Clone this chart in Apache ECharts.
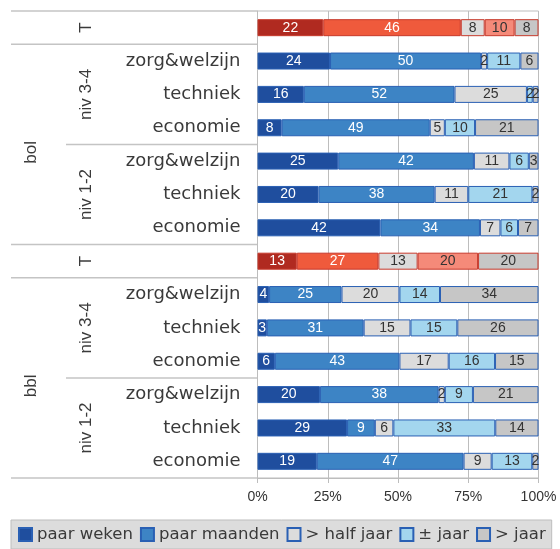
<!DOCTYPE html>
<html><head><meta charset="utf-8">
<script src="https://cdn.jsdelivr.net/npm/echarts@6/dist/echarts.min.js"></script>
<style>html,body{margin:0;padding:0;background:#fff}#c{width:560px;height:549px}</style>
</head><body><div id="c"></div>
<script>
// ---- data ----
const seriesNames = ['paar weken', 'paar maanden', '> half jaar', '± jaar', '> jaar'];
const rowLabels = ['', 'zorg&welzijn', 'techniek', 'economie', 'zorg&welzijn', 'techniek', 'economie',
                   '', 'zorg&welzijn', 'techniek', 'economie', 'zorg&welzijn', 'techniek', 'economie'];
const totalRows = [0, 7];
const midGroups = [
  { label: 'T', from: 0, to: 0 }, { label: 'niv 3-4', from: 1, to: 3 }, { label: 'niv 1-2', from: 4, to: 6 },
  { label: 'T', from: 7, to: 7 }, { label: 'niv 3-4', from: 8, to: 10 }, { label: 'niv 1-2', from: 11, to: 13 }
];
const outerGroups = [{ label: 'bol', from: 1, to: 6 }, { label: 'bbl', from: 8, to: 13 }];
const fullSeparators = [0, 1, 7, 8, 14];   // boundaries before these rows (14 = bottom)
const innerSeparators = [4, 11];

const paarWeken    = [22, 24, 16, 8, 25, 20, 42, 13, 4, 3, 6, 20, 29, 19];
const paarMaanden  = [46, 50, 52, 49, 42, 38, 34, 27, 25, 31, 43, 38, 9, 47];
const halfJaar     = [8, 2, 25, 5, 11, 11, 7, 13, 20, 15, 17, 2, 6, 9];
const ongeveerJaar = [10, 11, 2, 10, 6, 21, 6, 20, 14, 15, 16, 9, 33, 13];
const meerJaar     = [8, 6, 2, 21, 3, 2, 7, 20, 34, 26, 15, 21, 14, 2];

// ---- build ----
const raw = [paarWeken, paarMaanden, halfJaar, ongeveerJaar, meerJaar];
const rows = rowLabels.map((_, i) => 'r' + i);
const totals = rows.map((_, i) => raw.reduce((s, a) => s + a[i], 0));
const blueFill = ['#1F4E9E', '#3D84C5', '#DCDCDC', '#A3D6EE', '#C6C6C6'];
const redFill = ['#B02A20', '#EF5A3C', '#DCDCDC', '#F58A79', '#C6C6C6'];
const blueBorder = '#2A60B4';
const redBorder = '#C7392B';
const labelColors = ['#ffffff', '#ffffff', '#333333', '#333333', '#333333'];
const FONT = 'Liberation Sans, Arial, sans-serif';
const WIDE = 'DejaVu Sans, sans-serif';

const series = raw.map((arr, s) => ({
  name: seriesNames[s],
  type: 'bar',
  stack: 'all',
  barWidth: 17,
  itemStyle: { color: blueFill[s], borderColor: blueBorder, borderWidth: 1 },
  label: {
    show: true, position: 'inside', color: labelColors[s], fontSize: 14, fontFamily: FONT,
    formatter: p => String(raw[p.seriesIndex][p.dataIndex])
  },
  labelLayout: { hideOverlap: false },
  emphasis: { disabled: true },
  data: arr.map((v, i) => {
    const item = { value: v / totals[i] * 100 };
    if (totalRows.includes(i)) item.itemStyle = { color: redFill[s], borderColor: redBorder, borderWidth: 1 };
    return item;
  })
}));

const chart = echarts.init(document.getElementById('c'));
const GRID_LEFT = 257.5;
chart.setOption({
  animation: false,
  textStyle: { fontFamily: FONT },
  grid: { left: GRID_LEFT, right: 21.5, top: 11, bottom: 71, show: true, borderColor: '#BDBDBD', borderWidth: 1 },
  xAxis: {
    type: 'value', min: 0, max: 100, interval: 25,
    axisLine: { show: true, lineStyle: { color: '#BDBDBD' } },
    axisTick: { show: true, length: 5, lineStyle: { color: '#BDBDBD' } },
    splitLine: { show: true, lineStyle: { color: '#BDBDBD' } },
    axisLabel: { formatter: '{value}%', fontSize: 14, color: '#333', margin: 12, fontFamily: FONT }
  },
  yAxis: {
    type: 'category', data: rows, inverse: true,
    axisLine: { show: true, lineStyle: { color: '#BDBDBD' } },
    axisTick: { show: false },
    axisLabel: { formatter: (v, i) => rowLabels[i], fontSize: 18, color: '#3a3a3a', margin: 17, fontFamily: WIDE }
  },
  legend: {
    left: 11, top: 520, width: 620, orient: 'horizontal',
    backgroundColor: '#DCDCDC', borderColor: '#BDBDBD', borderWidth: 1,
    padding: [6, 6, 6, 7], itemWidth: 13, itemHeight: 13, itemGap: 7,
    icon: 'rect',
    textStyle: { fontSize: 16.5, color: '#3a3a3a', fontFamily: WIDE },
    data: seriesNames
  },
  series
});

// ---- hierarchical axis decorations, placed through the axis scale ----
const yc = i => chart.convertToPixel({ gridIndex: 0 }, [0, rows[i]])[1];
const rowH = yc(1) - yc(0);
const boundary = r => (r < rows.length ? yc(r) - rowH / 2 : yc(rows.length - 1) + rowH / 2);
const elements = [];
fullSeparators.forEach(r => elements.push({
  type: 'line', shape: { x1: 11, y1: boundary(r), x2: GRID_LEFT, y2: boundary(r) },
  style: { stroke: '#C4C4C4', lineWidth: 1.5 }, silent: true
}));
innerSeparators.forEach(r => elements.push({
  type: 'line', shape: { x1: 66, y1: boundary(r), x2: GRID_LEFT, y2: boundary(r) },
  style: { stroke: '#C4C4C4', lineWidth: 1.5 }, silent: true
}));
const addText = (label, x, y) => elements.push({
  type: 'text', x, y, rotation: Math.PI / 2, silent: true,
  style: { text: label, fontSize: 17, fontFamily: FONT, fill: '#3a3a3a',
           textAlign: 'center', textVerticalAlign: 'middle', align: 'center', verticalAlign: 'middle' }
});
midGroups.forEach(g => addText(g.label, 86, (yc(g.from) + yc(g.to)) / 2));
outerGroups.forEach(g => addText(g.label, 31, (yc(g.from) + yc(g.to)) / 2 + 8));
chart.setOption({ graphic: { elements } });
</script>
</body></html>
